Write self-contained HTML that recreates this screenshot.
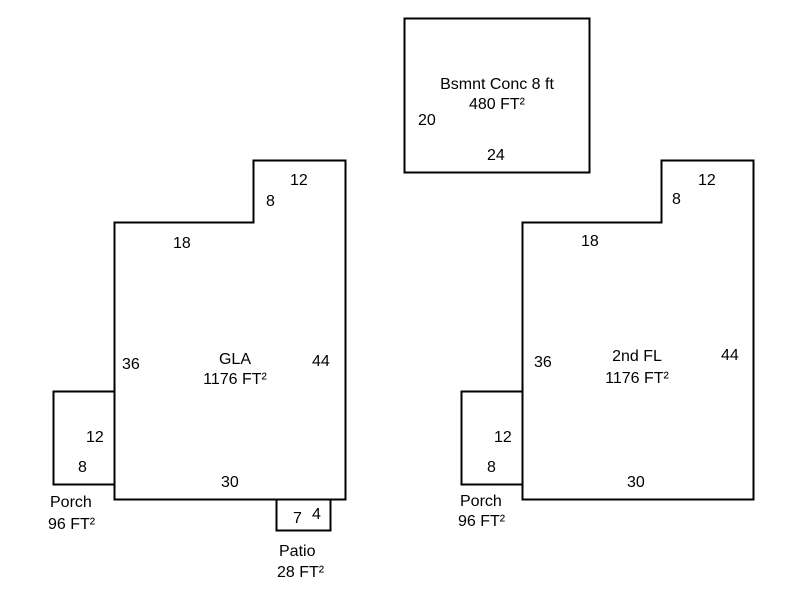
<!DOCTYPE html>
<html><head><style>body{margin:0;background:#fff}svg{display:block}text{font-family:"Liberation Sans",Arial,sans-serif;font-size:16px;fill:#000}</style></head>
<body>
<svg width="800" height="600" xmlns="http://www.w3.org/2000/svg">
<g fill="none" stroke="#000" stroke-width="2">
<rect x="404.5" y="18.5" width="185" height="154"/>
<polygon points="114.5,222.5 253.5,222.5 253.5,160.5 345.5,160.5 345.5,499.5 114.5,499.5"/>
<rect x="53.5" y="391.5" width="61" height="93"/>
<rect x="276.5" y="499.5" width="54" height="31"/>
<polygon points="522.5,222.5 661.5,222.5 661.5,160.5 753.5,160.5 753.5,499.5 522.5,499.5"/>
<rect x="461.5" y="391.5" width="61" height="93"/>
</g>
<text x="497" y="89" text-anchor="middle">Bsmnt Conc 8 ft</text>
<text x="497" y="109" text-anchor="middle">480 FT²</text>
<text x="418" y="125">20</text>
<text x="487" y="160">24</text>
<text x="290" y="185">12</text>
<text x="266" y="206">8</text>
<text x="173" y="248">18</text>
<text x="122" y="369">36</text>
<text x="235" y="364" text-anchor="middle">GLA</text>
<text x="235" y="384" text-anchor="middle">1176 FT²</text>
<text x="312" y="366">44</text>
<text x="86" y="442">12</text>
<text x="78" y="472">8</text>
<text x="221" y="487">30</text>
<text x="50" y="507">Porch</text>
<text x="48" y="529">96 FT²</text>
<text x="293" y="523">7</text>
<text x="312" y="519">4</text>
<text x="279" y="556">Patio</text>
<text x="277" y="577">28 FT²</text>
<text x="698" y="185">12</text>
<text x="672" y="204">8</text>
<text x="581" y="246">18</text>
<text x="534" y="367">36</text>
<text x="637" y="361" text-anchor="middle">2nd FL</text>
<text x="637" y="383" text-anchor="middle">1176 FT²</text>
<text x="721" y="360">44</text>
<text x="494" y="442">12</text>
<text x="487" y="472">8</text>
<text x="627" y="487">30</text>
<text x="460" y="506">Porch</text>
<text x="458" y="526">96 FT²</text>
</svg>
</body></html>
